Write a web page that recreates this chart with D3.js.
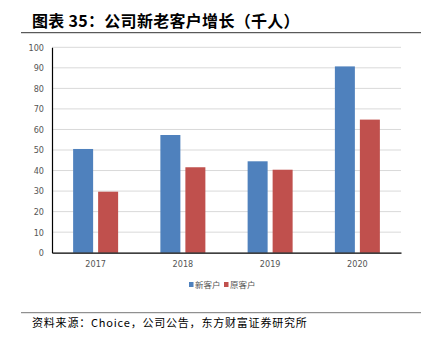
<!DOCTYPE html>
<html><head><meta charset="utf-8">
<script src="https://cdn.jsdelivr.net/npm/d3@7"></script>
<style>body{margin:0;background:#fff}svg{display:block}</style>
</head><body>
<script>
const categories = ["2017","2018","2019","2020"];
const newCustomers = [50.5, 57.3, 44.5, 90.7];
const oldCustomers = [29.7, 41.6, 40.4, 64.8];
const seriesNames = ["新客户","原客户"];
const seriesColors = ["#4f81bd","#c0504d"];
const yTicks = [0,10,20,30,40,50,60,70,80,90,100];

const W=433,H=342;
const svg=d3.select("body").append("svg").attr("width",W).attr("height",H);
const cjk='"Noto Sans CJK SC", sans-serif';

svg.append("text").attr("x",32).attr("y",26.5).attr("font-family",cjk).attr("font-weight","bold")
  .attr("font-size",16).attr("letter-spacing",0.3).attr("fill","#000").text("图表 35：公司新老客户增长（千人）");
svg.append("line").attr("x1",21).attr("x2",421).attr("y1",32.7).attr("y2",32.7).attr("stroke","#333").attr("stroke-width",1);
svg.append("line").attr("x1",21).attr("x2",421).attr("y1",312.7).attr("y2",312.7).attr("stroke","#777").attr("stroke-width",1);
svg.append("text").attr("x",32).attr("y",327).attr("font-family",cjk).attr("font-size",11).attr("letter-spacing",0.8).attr("fill","#000")
  .text("资料来源：Choice，公司公告，东方财富证券研究所");

const x0=52,x1=401,yTop=47.3,yBot=252.7;
const x=d3.scaleBand().domain(categories).range([x0,x1]);
const y=d3.scaleLinear().domain([0,100]).range([yBot,yTop]);

const g=svg.append("g");
g.selectAll("line.grid").data(yTicks.filter(d=>d>0)).enter().append("line")
  .attr("x1",x0).attr("x2",x1).attr("y1",d=>y(d)).attr("y2",d=>y(d))
  .attr("stroke","#d9d9d9").attr("stroke-width",1);

const yAxis=d3.axisLeft(y).tickValues(yTicks).tickSize(0).tickPadding(8);
const ya=svg.append("g").attr("transform",`translate(${x0},0)`).call(yAxis);
ya.select(".domain").attr("stroke","#000").attr("stroke-width",1.2);
ya.selectAll("text").attr("font-family","'Liberation Sans Narrow','DejaVu Sans Condensed',sans-serif").attr("font-size",9).attr("fill","#555");

const bw=20,gap=5;
const series=[newCustomers,oldCustomers];
series.forEach((vals,si)=>{
  g.selectAll("rect.s"+si).data(categories).enter().append("rect")
   .attr("x",d=>x(d)+x.bandwidth()/2-(bw+gap/2)+si*(bw+gap))
   .attr("width",bw)
   .attr("y",(d,i)=>y(vals[i]))
   .attr("height",(d,i)=>yBot-y(vals[i]))
   .attr("fill",seriesColors[si]);
});

const xAxis=d3.axisBottom(x).tickSize(0).tickPadding(8);
const xa=svg.append("g").attr("transform",`translate(0,${yBot})`).call(xAxis);
xa.select(".domain").attr("stroke","#000").attr("stroke-width",1.2);
xa.selectAll("text").attr("font-family","'Liberation Sans Narrow','DejaVu Sans Condensed',sans-serif").attr("font-size",9).attr("fill","#555");

const leg=svg.append("g");
const legX=[189,224];
seriesNames.forEach((n,i)=>{
  leg.append("rect").attr("x",legX[i]).attr("y",282).attr("width",4.5).attr("height",5).attr("fill",seriesColors[i]);
  leg.append("text").attr("x",legX[i]+6).attr("y",288).attr("font-family",cjk).attr("font-size",8.5).attr("fill","#555").text(n);
});
</script>
</body></html>
